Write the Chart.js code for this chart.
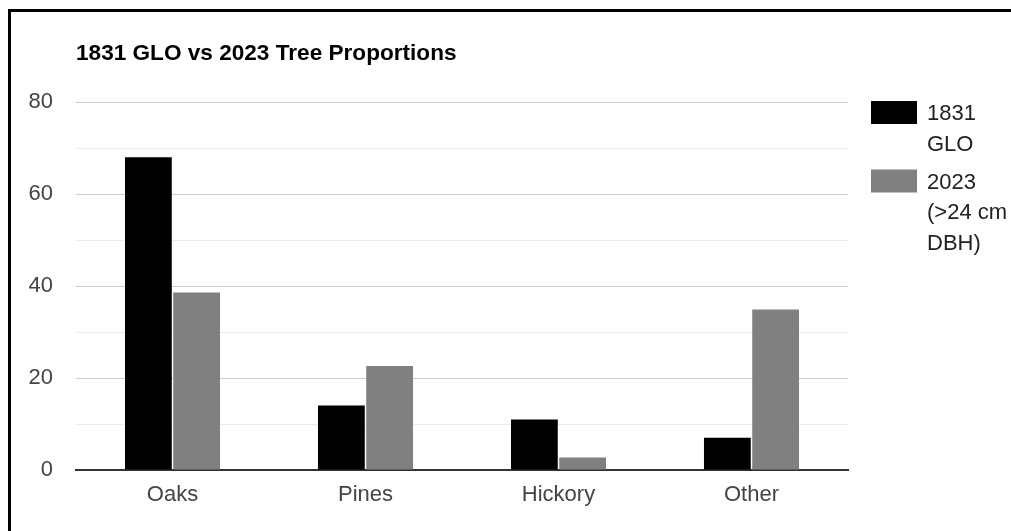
<!DOCTYPE html>
<html>
<head>
<meta charset="utf-8">
<title>1831 GLO vs 2023 Tree Proportions</title>
<script src="https://cdn.jsdelivr.net/npm/chart.js@4/dist/chart.umd.min.js"></script>
<style>
  html, body { margin: 0; padding: 0; background: #fff; }
  #c { display: block; }
</style>
</head>
<body>
<canvas id="c" width="1011" height="531"></canvas>
<script>
// Species groups on the x axis
const categories = ['Oaks', 'Pines', 'Hickory', 'Other'];
// Percent of trees per group
const glo1831 = [68, 14, 11, 7];
const dbh2023 = [38.6, 22.6, 2.7, 34.9];
// Legend text, one entry per series, split into display lines
const legend1831 = ['1831', 'GLO'];
const legend2023 = ['2023', '(>24 cm', 'DBH)'];
const chartTitle = '1831 GLO vs 2023 Tree Proportions';
// Value axis range and labelled ticks
const yMin = 0, yMax = 80, yStep = 10, yLabelStep = 20;

const FONT = "'Liberation Sans', Arial, sans-serif";
const seriesColors = ['#000000', '#808080'];

// Frame, title and wrapped legend drawn straight onto the canvas
const decorations = {
  id: 'decorations',
  afterDraw(chart) {
    const ctx = chart.ctx;
    ctx.save();
    // frame on the top and left edges
    ctx.fillStyle = '#000';
    ctx.fillRect(8, 9, 3, chart.height - 9);
    ctx.fillRect(8, 9, chart.width - 8, 3);

    // title
    ctx.font = 'bold 22.6px ' + FONT;
    ctx.fillStyle = '#000';
    ctx.textAlign = 'left';
    ctx.textBaseline = 'alphabetic';
    ctx.fillText(chartTitle, chart.chartArea.left, 60);

    // legend
    const entries = [legend1831, legend2023];
    const boxX = 871, boxW = 46, boxH = 23, textX = 927;
    const lineH = 30.5, itemGap = 7.5;
    let baseline = 120;
    ctx.font = '22px ' + FONT;
    entries.forEach((lines, i) => {
      ctx.fillStyle = seriesColors[i];
      ctx.fillRect(boxX, baseline - 19, boxW, boxH);
      ctx.fillStyle = '#222';
      lines.forEach((ln, j) => {
        ctx.fillText(ln, textX, baseline + j * lineH);
      });
      baseline += lines.length * lineH + itemGap;
    });
    ctx.restore();
  }
};

new Chart(document.getElementById('c'), {
  type: 'bar',
  data: {
    labels: categories,
    datasets: [
      { label: legend1831.join(' '), data: glo1831, backgroundColor: seriesColors[0],
        categoryPercentage: 0.5, barPercentage: 0.97 },
      { label: legend2023.join(' '), data: dbh2023, backgroundColor: seriesColors[1],
        categoryPercentage: 0.5, barPercentage: 0.97 }
    ]
  },
  options: {
    responsive: false,
    animation: false,
    devicePixelRatio: 1,
    layout: { padding: { top: 102, right: 163, bottom: 0, left: 0 } },
    plugins: {
      legend: { display: false },
      title: { display: false },
      tooltip: { enabled: false }
    },
    scales: {
      x: {
        z: 1,
        grid: { display: false, drawTicks: false },
        border: { display: true, color: '#333', width: 2 },
        ticks: { color: '#444', font: { family: FONT, size: 22 }, padding: 12 },
        afterFit(scale) { scale.height = 61; }
      },
      y: {
        min: yMin,
        max: yMax,
        border: { display: false },
        grid: {
          drawTicks: false,
          lineWidth: 1,
          color(ctx) {
            const v = ctx.tick.value;
            if (v === 0) return 'rgba(0,0,0,0)';
            return v % yLabelStep === 0 ? '#cccccc' : '#ebebeb';
          }
        },
        ticks: {
          stepSize: yStep,
          color: '#444',
          padding: 23,
          font: { family: FONT, size: 22 },
          callback(v) { return v % yLabelStep === 0 ? v : ''; }
        },
        afterFit(scale) { scale.width = 76; }
      }
    }
  },
  plugins: [decorations]
});
</script>
</body>
</html>
